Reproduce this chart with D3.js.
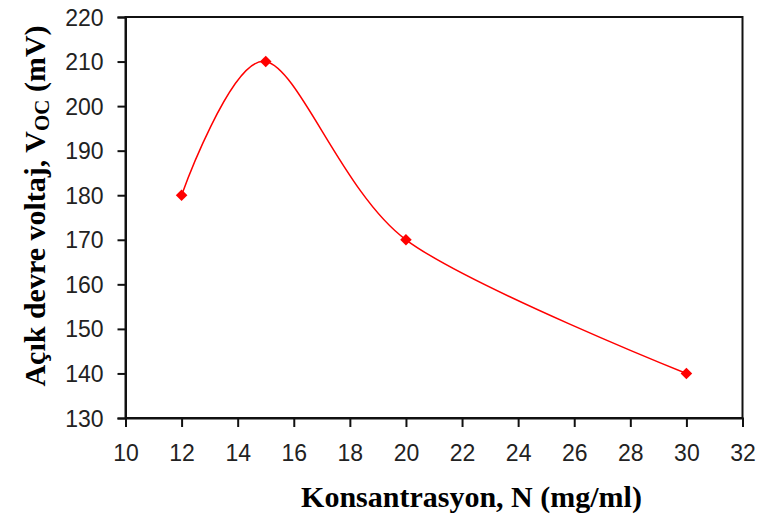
<!DOCTYPE html>
<html><head><meta charset="utf-8">
<script src="https://cdn.jsdelivr.net/npm/d3@7"></script>
<style>body{margin:0;background:#fff}</style>
</head><body>
<svg id="c" width="757" height="519"></svg>
<script>
const concentration = [12, 15, 20, 30];
const voltage = [180, 210, 170, 140];
const xTicks = [10,12,14,16,18,20,22,24,26,28,30,32];
const yTicks = [130,140,150,160,170,180,190,200,210,220];
const xTitle = "Konsantrasyon, N (mg/ml)";

const svg = d3.select("#c");
const L = 125.5, R = 742.5, T = 17, B = 418;
const x = d3.scaleLinear().domain([10,32]).range([L,R]);
const y = d3.scaleLinear().domain([130,220]).range([B,T]);

// frame
svg.append("rect").attr("x",L).attr("y",T).attr("width",R-L).attr("height",B-T)
  .attr("fill","none").attr("stroke","#111").attr("stroke-width",2);

const xAxis = svg.append("g").attr("transform",`translate(0,${B})`)
  .call(d3.axisBottom(x).tickValues(xTicks).tickSize(9).tickPadding(18).tickFormat(d3.format("d")));
const yAxis = svg.append("g").attr("transform",`translate(${L},0)`)
  .call(d3.axisLeft(y).tickValues(yTicks).tickSize(8).tickPadding(14).tickFormat(d3.format("d")));
[xAxis,yAxis].forEach(g=>{
  g.select(".domain").attr("stroke","#111").attr("stroke-width",2);
  g.selectAll(".tick line").attr("stroke","#111").attr("stroke-width",2);
  g.selectAll(".tick text").attr("font-family","'Liberation Sans', Arial, sans-serif")
    .attr("font-size",23).attr("fill","#222");
});
yAxis.selectAll(".tick text").attr("dy","0.35em");

const pts = concentration.map((c,i)=>[c, voltage[i]]);
const line = d3.line().x(d=>x(d[0])).y(d=>y(d[1])).curve(d3.curveCardinal.tension(0.1));
svg.append("path").attr("d",line(pts)).attr("fill","none").attr("stroke","#ff0000").attr("stroke-width",1.5);

svg.selectAll(".m").data(pts).enter().append("path")
  .attr("transform",d=>`translate(${x(d[0])},${y(d[1])})`)
  .attr("d",d3.symbol().type(d3.symbolDiamond2).size(85))
  .attr("fill","#ff0000");

svg.append("text").attr("x",(293+650)/2).attr("y",507).attr("text-anchor","middle")
  .attr("font-family","'Liberation Serif','Times New Roman',serif").attr("font-weight","bold")
  .attr("font-size",30).attr("fill","#000").text(xTitle);

const yt = svg.append("text").attr("transform","translate(45,206) rotate(-90)").attr("text-anchor","middle")
  .attr("font-family","'Liberation Serif','Times New Roman',serif").attr("font-weight","bold")
  .attr("font-size",30).attr("fill","#000");
yt.append("tspan").text("Açık devre voltaj, V");
yt.append("tspan").attr("font-size",21).attr("dy",4).text("OC");
yt.append("tspan").attr("dy",-4).text(" (mV)");
</script>
</body></html>
